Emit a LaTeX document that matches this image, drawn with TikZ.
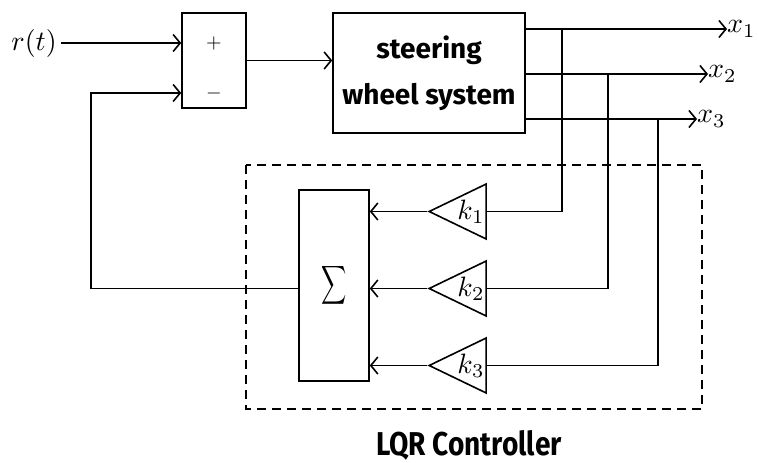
\documentclass[tikz,border=0pt]{standalone}
\usepackage{fontspec}
\newfontfamily\blockfont{Fira Sans}
\newfontfamily\lqrfont{Fira Sans}[FakeStretch=0.85]
\usetikzlibrary{arrows.meta,positioning,shapes.geometric}

\newcommand{\mlab}[1]{\scalebox{2.8}{$#1$}}

\tikzset{
  line/.style={line width=1.6pt},
  signal/.style={line, -{Straight Barb[length=7pt,width=17pt,line width=1.6pt]}},
  block/.style={draw, line width=1.6pt, inner sep=0pt},
  gain/.style={draw, line width=1.6pt, isosceles triangle, shape border rotate=180,
    isosceles triangle stretches, minimum width=55pt, minimum height=57pt, inner sep=0pt},
  mathlabel/.style={inner sep=0pt},
}

\begin{document}
\begin{tikzpicture}[x=1pt,y=-1pt]
  \useasboundingbox (0,0) rectangle (758,463);

  % input and comparator
  \node[mathlabel] (r) at (34,43) {\mlab{r(t)}};
  \node[block, minimum width=64pt, minimum height=95pt] (cmp) at (214,60.5) {};
  \node (plus) at (214,43) {\scalebox{2}{$+$}};
  \node (minus) at (214,93) {\scalebox{2}{$-$}};

  % plant
  \node[block, minimum width=192pt, minimum height=120pt, align=center,
    font=\blockfont\bfseries\fontsize{28}{46}\selectfont] (sys) at (429,73)
    {steering\\wheel system};

  % outputs
  \node[mathlabel, anchor=west] (x1) at (727,29) {\mlab{x_1}};
  \node[mathlabel, anchor=west] (x2) at (708,74) {\mlab{x_2}};
  \node[mathlabel, anchor=west] (x3) at (697,119) {\mlab{x_3}};
  \coordinate (t1) at (562,29);
  \coordinate (t2) at (608,74);
  \coordinate (t3) at (658,119);

  % controller
  \node[block, minimum width=70pt, minimum height=191pt] (sum) at (334,285.5)
    {\scalebox{1.75}[2.7]{$\displaystyle\sum$}};
  \node[gain] (k1) at (471,211.5) {\mlab{k_1}};
  \node[gain] (k2) at (471,288.5) {\mlab{k_2}};
  \node[gain] (k3) at (471,365.5) {\mlab{k_3}};
  \draw[line, dash pattern=on 9pt off 6pt] (246,165) rectangle (702,409);
  \node[font=\lqrfont\bfseries\fontsize{33}{36}\selectfont] (lqr) at (469,445) {LQR Controller};

  % forward path
  \draw[signal] (r.east) ++(4,0) -- (r.east -| cmp.west);
  \draw[signal] (cmp.east) -- (cmp.east -| sys.west);
  \draw[signal] (sys.east |- x1.west) -- (x1.west);
  \draw[signal] (sys.east |- x2.west) -- (x2.west);
  \draw[signal] (sys.east |- x3.west) -- (x3.west);

  % state feedback
  \draw[line] (t1) |- (k1.east);
  \draw[line] (t2) |- (k2.east);
  \draw[line] (t3) |- (k3.east);
  \draw[signal] (k1.apex) -- (k1.apex -| sum.east);
  \draw[signal] (k2.apex) -- (k2.apex -| sum.east);
  \draw[signal] (k3.apex) -- (k3.apex -| sum.east);
  \draw[signal] (sum.west |- k2.apex) -| (91,93) -- (minus -| cmp.west);
\end{tikzpicture}
\end{document}
